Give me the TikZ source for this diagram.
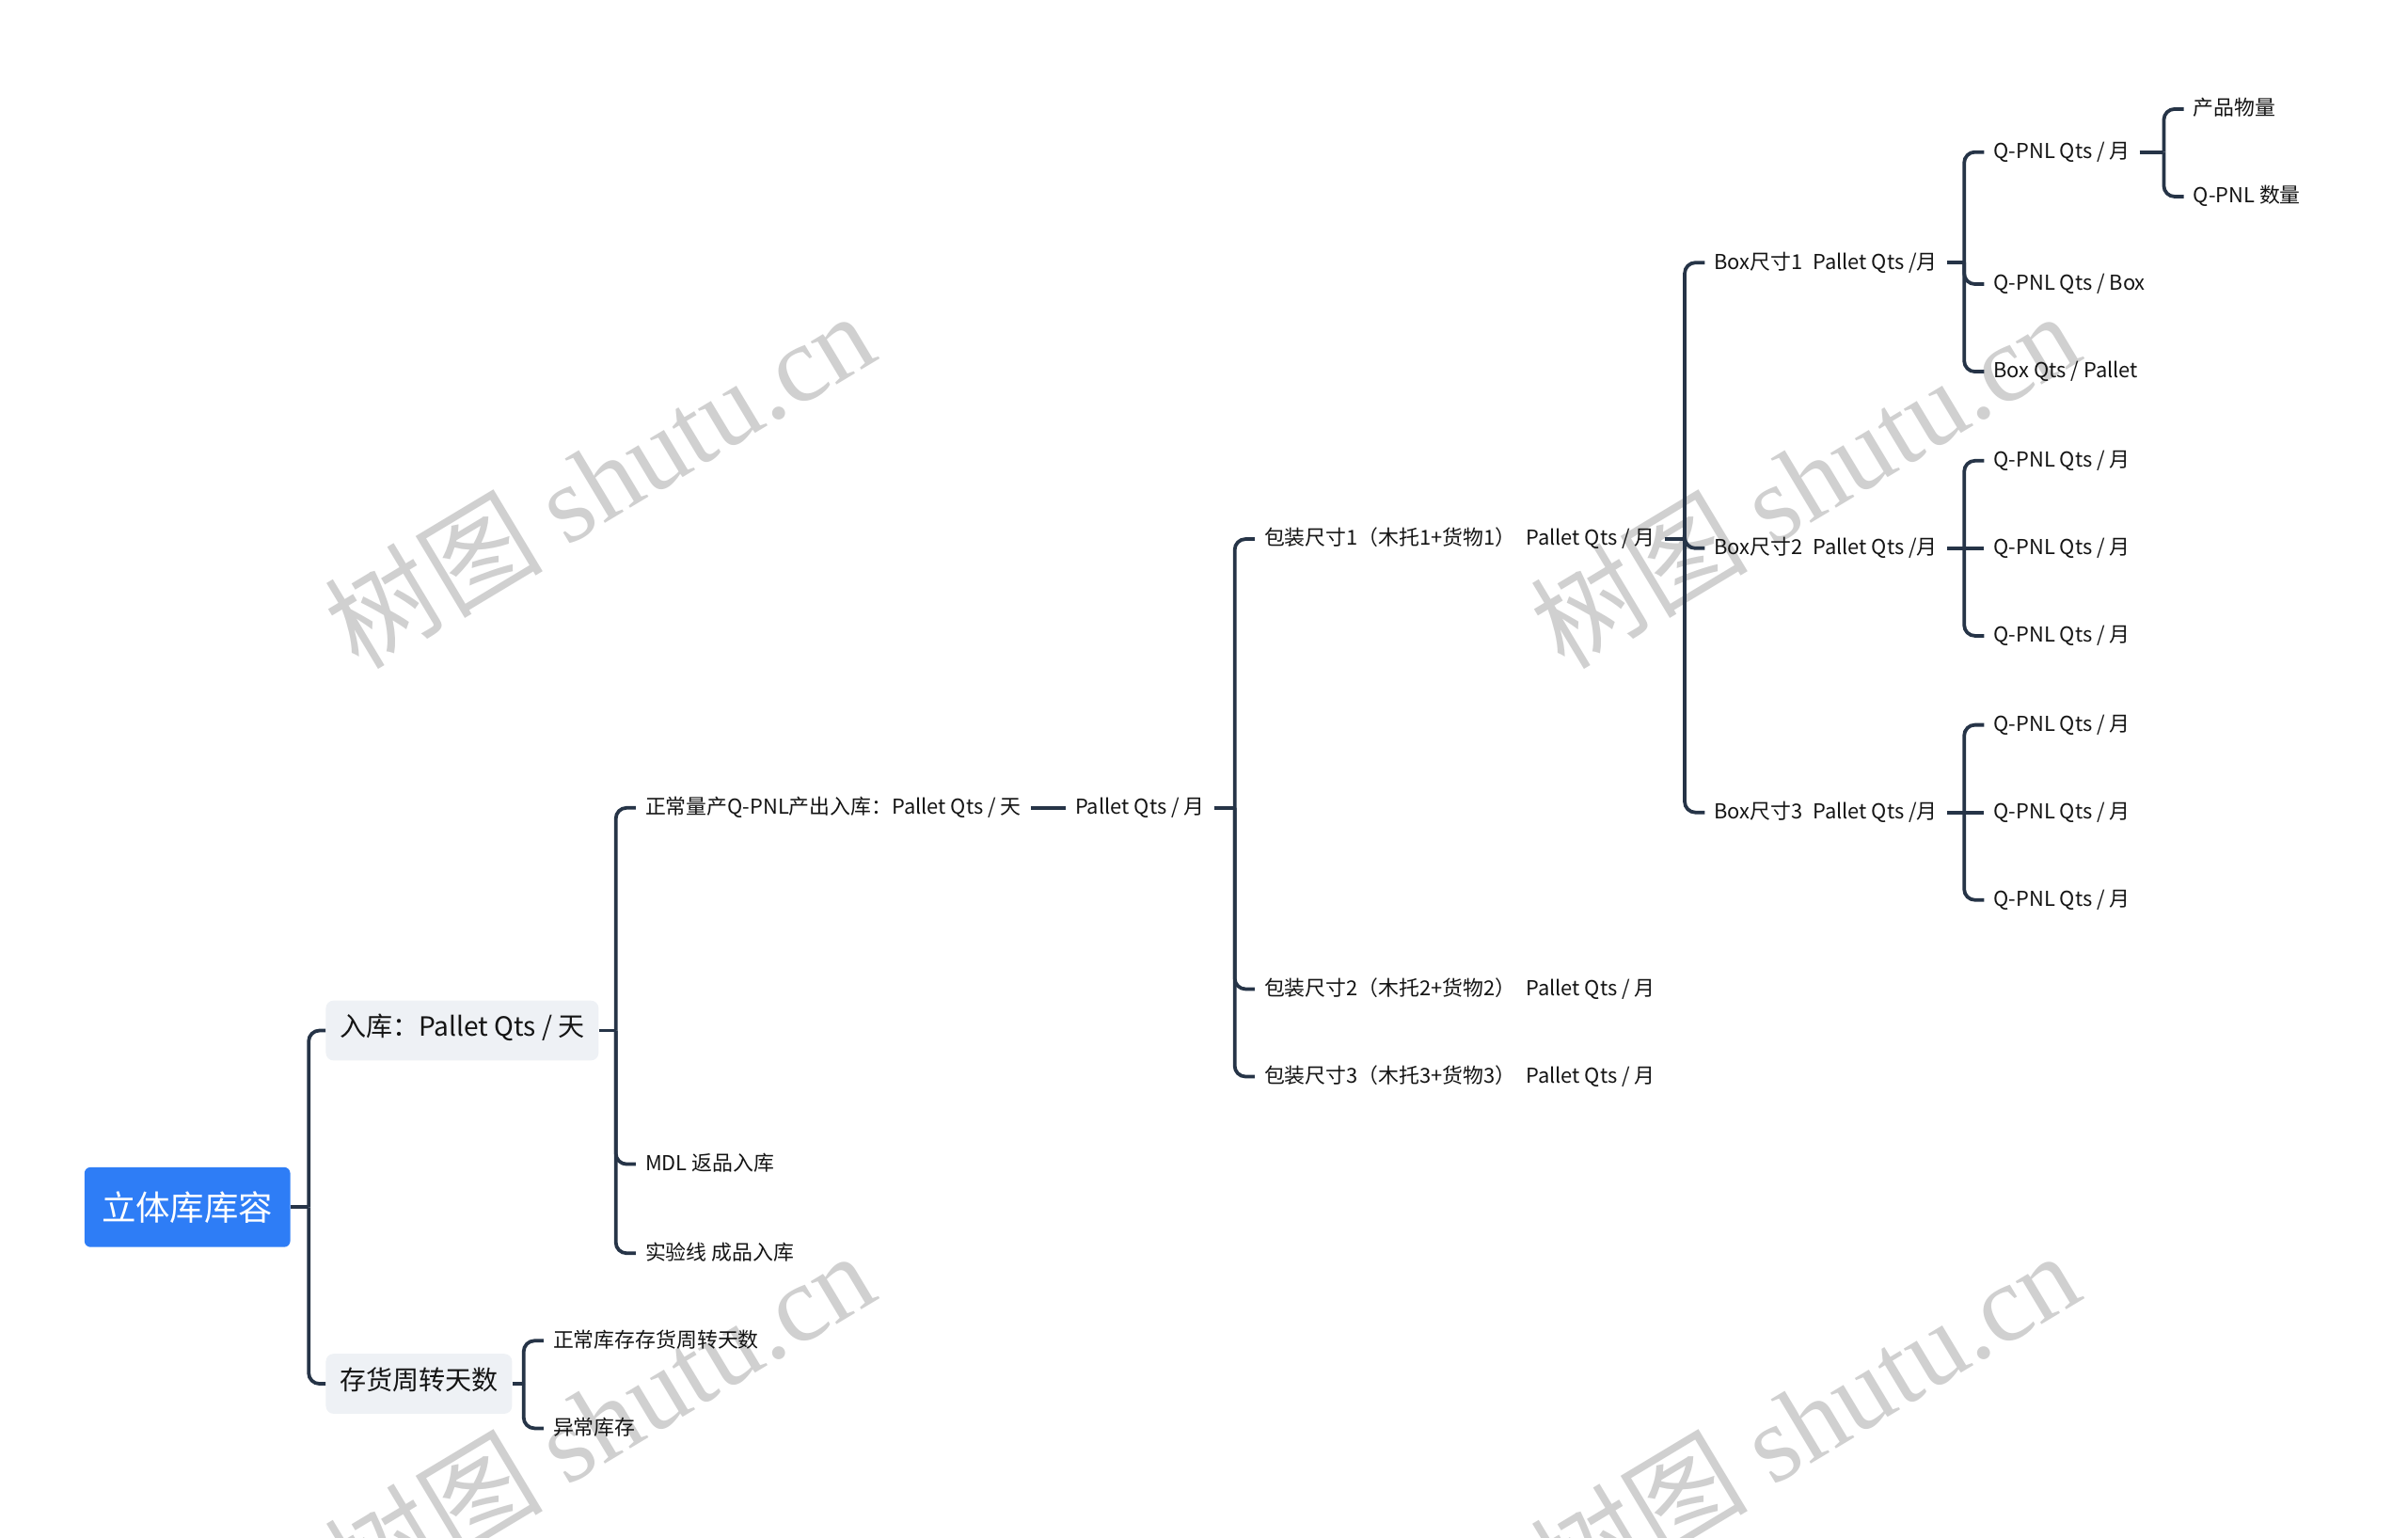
\documentclass[tikz,border=0pt]{standalone}
\usepackage{fontspec}
\setmainfont{Noto Sans CJK SC}
\newfontfamily\wmlatin{Liberation Serif}
\usetikzlibrary{calc}
\definecolor{rootblue}{RGB}{46,125,246}
\definecolor{boxgray}{RGB}{238,241,245}
\definecolor{linecol}{RGB}{38,52,71}
\definecolor{txt}{RGB}{20,20,20}
\definecolor{wm}{RGB}{208,208,208}
\begin{document}
\begin{tikzpicture}[x=1pt,y=-1pt,
  conn/.style={draw=linecol,line width=2.3pt,rounded corners=7pt},
  rootnode/.style={fill=rootblue,text=white,rounded corners=4pt,minimum width=134pt,minimum height=52pt,font=\fontsize{22.3}{26}\selectfont,inner sep=0pt},
  lvlone/.style={fill=boxgray,text=txt,rounded corners=5pt,minimum height=39pt,inner xsep=9pt,inner ysep=0pt,font=\fontsize{17.2}{20}\selectfont,text height=0.88em,text depth=0.12em,anchor=west},
  leaf/.style={text=txt,inner xsep=6pt,inner ysep=2pt,font=\fontsize{13.4}{16}\selectfont,text height=0.92em,text depth=0.08em,anchor=west},
  wmark/.style={text=wm,rotate=31,font=\fontsize{71}{76}\selectfont,inner sep=0pt}
]
\useasboundingbox (0,0) rectangle (1568,1001);
\fill[white] (0,0) rectangle (1568,1001);

% watermarks
\node[wmark] (w1) at (390,312) {树图 {\wmlatin shutu.cn}};
\node[wmark] (w2) at (1175,312) {树图 {\wmlatin shutu.cn}};
\node[wmark] (w3) at (390,924) {树图 {\wmlatin shutu.cn}};
\node[wmark] (w4) at (1175,924) {树图 {\wmlatin shutu.cn}};

% nodes
\node[rootnode] (root) at (122,786) {立体库库容};
\node[lvlone] (ruku) at (212,671) {入库：Pallet Qts / 天};
\node[lvlone] (cunhuo) at (212,901) {存货周转天数};

\node[leaf] (zc) at (414,526) {正常量产Q-PNL产出入库：Pallet Qts / 天};
\node[leaf] (mdl) at (414,758) {MDL 返品入库};
\node[leaf] (syx) at (414,816) {实验线 成品入库};
\node[leaf] (pm) at (694,526) {Pallet Qts / 月};

\node[leaf] (bz1) at (817,351) {包装尺寸1（木托1+货物1）\hspace{0.5em}Pallet Qts / 月};
\node[leaf] (bz2) at (817,644) {包装尺寸2（木托2+货物2）\hspace{0.5em}Pallet Qts / 月};
\node[leaf] (bz3) at (817,701) {包装尺寸3（木托3+货物3）\hspace{0.5em}Pallet Qts / 月};

\node[leaf] (b1) at (1110,171) {Box尺寸1\hspace{0.5em}Pallet Qts /月};
\node[leaf] (b2) at (1110,357) {Box尺寸2\hspace{0.5em}Pallet Qts /月};
\node[leaf] (b3) at (1110,529) {Box尺寸3\hspace{0.5em}Pallet Qts /月};

\node[leaf] (q11) at (1292,99) {Q-PNL Qts / 月};
\node[leaf] (q12) at (1292,185) {Q-PNL Qts / Box};
\node[leaf] (q13) at (1292,242) {Box Qts / Pallet};
\node[leaf] (p1) at (1422,71) {产品物量};
\node[leaf] (p2) at (1422,128) {Q-PNL 数量};

\node[leaf] (q21) at (1292,300) {Q-PNL Qts / 月};
\node[leaf] (q22) at (1292,357) {Q-PNL Qts / 月};
\node[leaf] (q23) at (1292,414) {Q-PNL Qts / 月};
\node[leaf] (q31) at (1292,472) {Q-PNL Qts / 月};
\node[leaf] (q32) at (1292,529) {Q-PNL Qts / 月};
\node[leaf] (q33) at (1292,586) {Q-PNL Qts / 月};

\node[leaf] (c1) at (354,873) {正常库存存货周转天数};
\node[leaf] (c2) at (354,930) {异常库存};

% trunk coordinates
\coordinate (t0) at ($(ruku.west)+(-11,0)$);
\coordinate (t1) at ($(zc.west)+(-13,0)$);
\coordinate (t2) at ($(c1.west)+(-13,0)$);
\coordinate (t3) at ($(bz1.west)+(-13,0)$);
\coordinate (t4) at ($(b1.west)+(-13,0)$);
\coordinate (t5) at ($(q11.west)+(-13,0)$);
\coordinate (t6) at ($(p1.west)+(-13,0)$);

% connectors
\draw[conn] (root.east) -- (root.east -| t0);
\draw[conn] (root.east -| t0) |- (ruku.west);
\draw[conn] (root.east -| t0) |- (cunhuo.west);

\draw[conn] (ruku.east) -- (ruku.east -| t1);
\draw[conn] (ruku.east -| t1) |- (zc.west);
\draw[conn] (ruku.east -| t1) |- (mdl.west);
\draw[conn] (ruku.east -| t1) |- (syx.west);

\draw[conn] (cunhuo.east) -- (cunhuo.east -| t2);
\draw[conn] (cunhuo.east -| t2) |- (c1.west);
\draw[conn] (cunhuo.east -| t2) |- (c2.west);

\draw[conn] (zc.east) -- (pm.west);

\draw[conn] (pm.east) -- (pm.east -| t3);
\draw[conn] (pm.east -| t3) |- (bz1.west);
\draw[conn] (pm.east -| t3) |- (bz2.west);
\draw[conn] (pm.east -| t3) |- (bz3.west);

\draw[conn] (bz1.east) -- (bz1.east -| t4);
\draw[conn] (bz1.east -| t4) |- (b1.west);
\draw[conn] (bz1.east -| t4) |- (b2.west);
\draw[conn] (bz1.east -| t4) |- (b3.west);

\draw[conn] (b1.east) -- (b1.east -| t5);
\draw[conn] (b1.east -| t5) |- (q11.west);
\draw[conn] (b1.east -| t5) |- (q12.west);
\draw[conn] (b1.east -| t5) |- (q13.west);

\draw[conn] (q11.east) -- (q11.east -| t6);
\draw[conn] (q11.east -| t6) |- (p1.west);
\draw[conn] (q11.east -| t6) |- (p2.west);

\draw[conn] (b2.east) -- (q22.west);
\draw[conn] (b2.east -| t5) |- (q21.west);
\draw[conn] (b2.east -| t5) |- (q23.west);

\draw[conn] (b3.east) -- (q32.west);
\draw[conn] (b3.east -| t5) |- (q31.west);
\draw[conn] (b3.east -| t5) |- (q33.west);
\end{tikzpicture}
\end{document}
